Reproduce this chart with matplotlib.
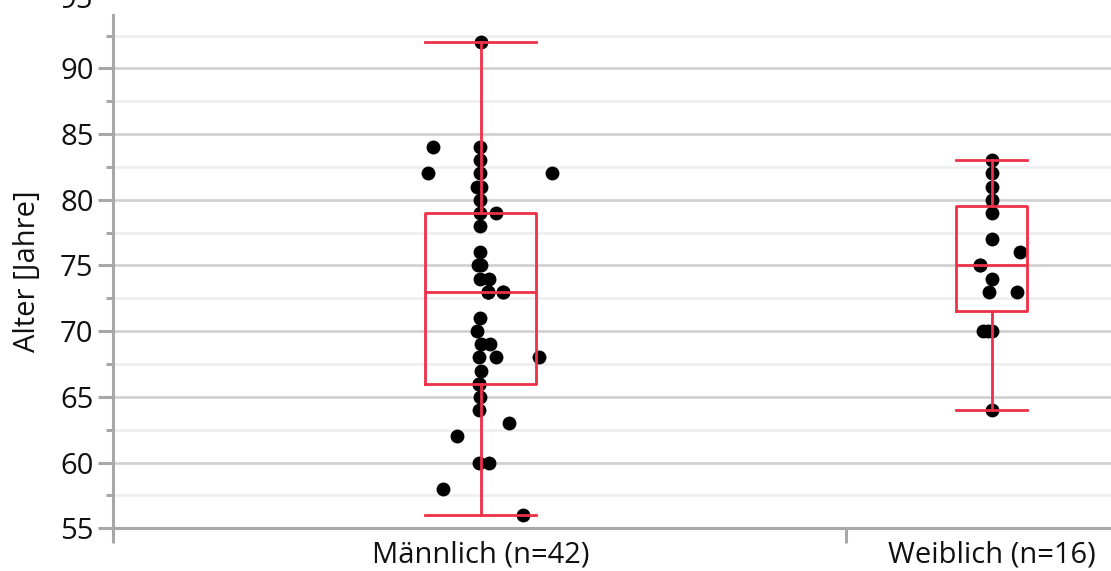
import numpy as np
import matplotlib
matplotlib.use("Agg")
import matplotlib.pyplot as plt
from matplotlib.ticker import MultipleLocator

# Kategorien
gruppen = ['Männlich (n=42)', 'Weiblich (n=16)']

# Alter [Jahre] je Gruppe
alter_m = [92, 84, 84, 83, 82, 82, 82, 81, 81, 80, 79, 79, 78, 76, 75, 75,
           74, 74, 73, 73, 73, 73, 73, 71, 70, 69, 69, 68, 68, 68, 67,
           66, 66, 66, 65, 64, 63, 62, 60, 60, 58, 56]
alter_w = [83, 82, 81, 80, 79, 77, 76, 75, 75, 74, 73, 73, 70, 70, 70, 64]

# horizontale Streuung der Punkte (Kategorie-Einheiten)
jitter_m = [0.001, -0.093, -0.002, -0.002, -0.104, -0.002, 0.140, -0.007, 0.001,
            -0.002, -0.002, 0.029, -0.002, -0.002, -0.005, 0.001, -0.002, 0.016,
            0.014, 0.044, 0.014, 0.044, 0.014, -0.002, -0.007, 0.001, 0.018,
            -0.003, 0.029, 0.114, 0.001, -0.003, -0.003, -0.003, -0.002, -0.003,
            0.055, -0.046, -0.004, 0.016, -0.075, 0.082]
jitter_w = [0.001, 0.001, 0.001, 0.001, 0.001, 0.001, 0.055, -0.023, -0.023,
            0.001, -0.006, 0.049, -0.017, -0.008, 0.001, 0.001]

plt.rcParams['font.family'] = ['Open Sans', 'DejaVu Sans']

rot = '#EE3049'
grau = '#a8a8a8'
schrift = 21


def kennwerte(werte):
    # Quartile als Median der Haelften (Tukey)
    v = np.sort(np.array(werte, dtype=float))
    n = len(v)
    return dict(med=np.median(v),
                q1=np.median(v[:(n + 1) // 2]),
                q3=np.median(v[n // 2:]),
                whislo=v.min(), whishi=v.max(), fliers=[])


fig = plt.figure(figsize=(11.11, 5.71), dpi=100)
ax = fig.add_axes([0.1017, 0.0748, 0.8983, 0.8989])

# Gitter
ax.yaxis.set_major_locator(MultipleLocator(5))
ax.yaxis.set_minor_locator(MultipleLocator(2.5))
ax.grid(axis='y', which='major', color='#d0d0d0', linewidth=1.9, zorder=0)
ax.grid(axis='y', which='minor', color='#eeeeee', linewidth=1.9, zorder=0)
ax.set_axisbelow(True)

# Punkte
for i, (werte, jit) in enumerate([(alter_m, jitter_m), (alter_w, jitter_w)]):
    ax.scatter(i + np.array(jit), werte, s=100, color='black', zorder=2, linewidths=0)

# Boxen
breiten = [0.217, 0.139]
ax.bxp([kennwerte(alter_m), kennwerte(alter_w)], positions=[0, 1],
       widths=breiten, capwidths=breiten, showfliers=False, patch_artist=False,
       boxprops=dict(color=rot, linewidth=2.0),
       whiskerprops=dict(color=rot, linewidth=2.0),
       capprops=dict(color=rot, linewidth=2.0),
       medianprops=dict(color=rot, linewidth=2.0),
       zorder=3)

ax.set_xlim(-0.72, 1.233)
ax.set_ylim(55, 94.06)

# Achsen
for s in ['top', 'right']:
    ax.spines[s].set_visible(False)
for s in ['left', 'bottom']:
    ax.spines[s].set_color(grau)
    ax.spines[s].set_linewidth(2.2)

ax.set_xticks([0, 1])
ax.set_xticklabels(gruppen)
ax.set_xticks([-0.72, 0.714], minor=True)
ax.tick_params(axis='x', which='major', length=0, pad=9, labelsize=schrift, labelcolor='#111111')
ax.tick_params(axis='x', which='minor', length=10.5, width=2.2, color=grau)
ax.tick_params(axis='y', which='major', length=10.5, width=2.2, color=grau,
               pad=3.5, labelsize=schrift, labelcolor='#111111')
ax.tick_params(axis='y', which='minor', length=5, width=2.2, color=grau)

# abgeschnittene Beschriftung 95 am oberen Rand
ax.text(-0.0203, 95.2, '95', transform=ax.get_yaxis_transform(), ha='right', va='center',
        fontsize=schrift, color='#111111', clip_on=False)

ax.set_ylabel('Alter [Jahre]', fontsize=schrift, color='#111111', labelpad=13)

fig.savefig('out.png', dpi=100)
